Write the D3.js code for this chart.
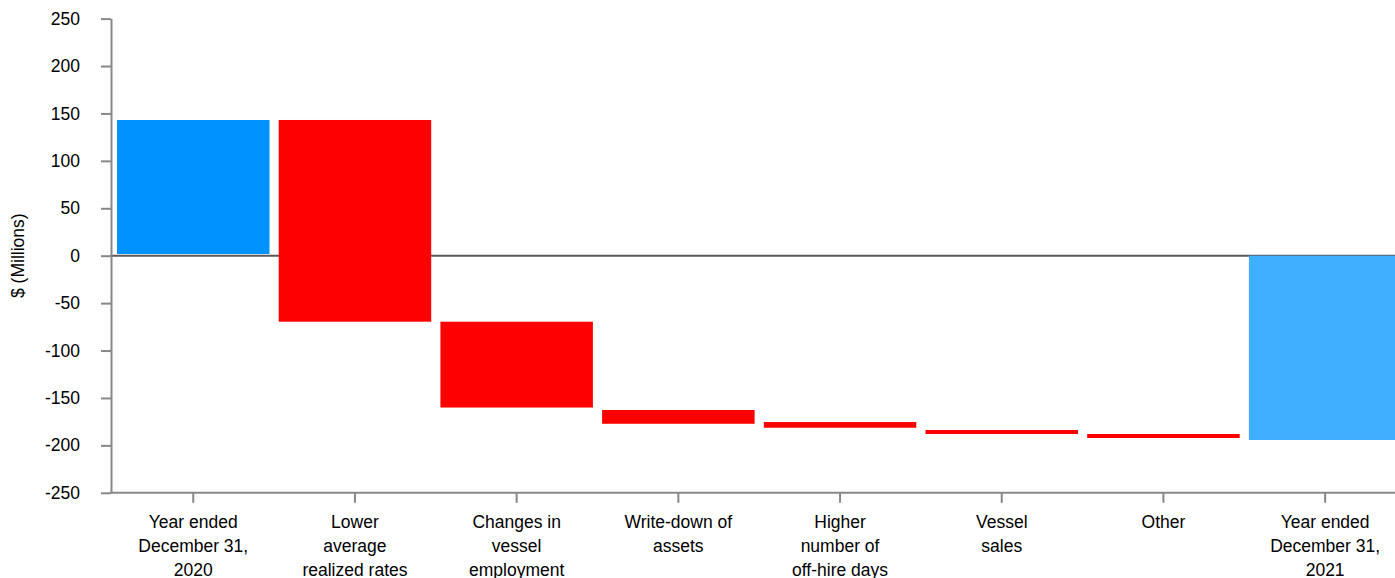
<!DOCTYPE html>
<html>
<head>
<meta charset="utf-8">
<script src="https://cdn.jsdelivr.net/npm/d3@7"></script>
<style>
  body { margin: 0; background: #fff; }
  text { font-family: Arial, "Liberation Sans", sans-serif; font-size: 17.5px; fill: #000; }
</style>
</head>
<body>
<script>
//waterfall data ($ millions)
var categories = [
    "Year ended|December 31,|2020",
    "Lower|average|realized rates",
    "Changes in|vessel|employment",
    "Write-down of|assets",
    "Higher|number of|off-hire days",
    "Vessel|sales",
    "Other",
    "Year ended|December 31,|2021"
];
var barStart = [1.8, 143.1, -69.6, -162.7, -175.4, -183.8, -188.0, 0];
var barEnd = [143.1, -69.6, -160.1, -177.2, -181.4, -188.0, -192.2, -194.3];
var barType = ["total", "delta", "delta", "delta", "delta", "delta", "delta", "total2"];
var yTicks = [250, 200, 150, 100, 50, 0, -50, -100, -150, -200, -250];

var colors = { total: "#0092ff", delta: "#ff0000", total2: "#40aeff" };

var width = 1395,
    height = 578;

var svg = d3.select("body")
    .append("svg")
    .attr("width", width)
    .attr("height", height);

//scales
var x = d3.scaleBand()
    .domain(categories)
    .range([107.8, 1410.6])
    .padding(0.057);

var y = d3.scaleLinear()
    .domain([-250, 250])
    .range([492.8, 18.6]);

//zero line goes under the bars
svg.append("line")
    .attr("x1", 110)
    .attr("x2", width)
    .attr("y1", y(0))
    .attr("y2", y(0))
    .attr("stroke", "#595959")
    .attr("stroke-width", 2);

//bars
svg.selectAll(".bar")
    .data(categories)
    .enter()
    .append("rect")
    .attr("class", "bar")
    .attr("x", function(d){ return x(d); })
    .attr("width", x.bandwidth())
    .attr("y", function(d, i){ return y(Math.max(barStart[i], barEnd[i])); })
    .attr("height", function(d, i){ return Math.abs(y(barStart[i]) - y(barEnd[i])); })
    .attr("fill", function(d, i){ return colors[barType[i]]; });

//y axis (plain hyphen for negatives, like the original)
var yAxis = svg.append("g")
    .attr("transform", "translate(111,0)")
    .call(d3.axisLeft(y).tickValues(yTicks).tickSize(10).tickSizeOuter(0).tickPadding(21)
        .tickFormat(function(d){ return String(d); }));

yAxis.select(".domain").attr("stroke", "#888").attr("stroke-width", 2);
yAxis.selectAll(".tick line").attr("stroke", "#888").attr("stroke-width", 2);
yAxis.selectAll(".tick text")
    .attr("fill", "#000")
    .style("font-size", "17.5px")
    .style("font-family", "Arial, 'Liberation Sans', sans-serif");

//x axis
var xAxis = svg.append("g")
    .attr("transform", "translate(0," + y(-250) + ")")
    .call(d3.axisBottom(x).tickSize(10).tickSizeOuter(0).tickFormat(""));

xAxis.select(".domain").attr("stroke", "#888").attr("stroke-width", 2)
    .attr("d", "M110,0H" + width);
xAxis.selectAll(".tick line").attr("stroke", "#888").attr("stroke-width", 2);

//multi-line category labels
svg.selectAll(".xlabel")
    .data(categories)
    .enter()
    .append("text")
    .attr("class", "xlabel")
    .attr("text-anchor", "middle")
    .attr("x", function(d){ return x(d) + x.bandwidth() / 2; })
    .attr("y", 528)
    .selectAll("tspan")
    .data(function(d){ return d.split("|"); })
    .enter()
    .append("tspan")
    .attr("x", function(){ var p = this.parentNode.__data__; return x(p) + x.bandwidth() / 2; })
    .attr("dy", function(d, i){ return i === 0 ? 0 : 24; })
    .text(function(d){ return d; });

//y axis title
svg.append("text")
    .attr("transform", "translate(24," + y(0) + ") rotate(-90)")
    .attr("text-anchor", "middle")
    .text("$ (Millions)");
</script>
</body>
</html>
